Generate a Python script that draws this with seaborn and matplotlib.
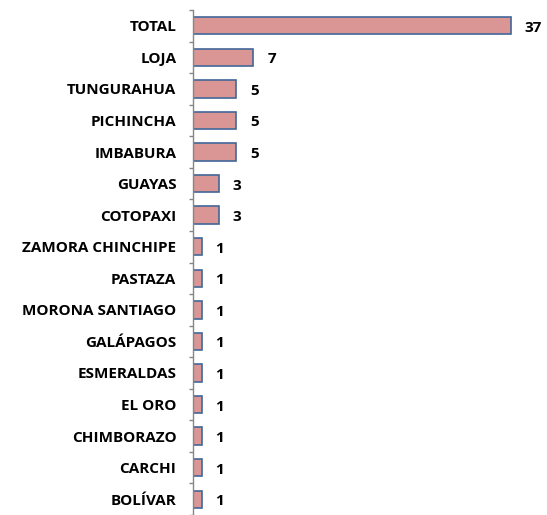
import matplotlib
matplotlib.use("Agg")
import matplotlib.pyplot as plt
import seaborn as sns
import pandas as pd
import numpy as np

provinces = ["TOTAL", "LOJA", "TUNGURAHUA", "PICHINCHA", "IMBABURA", "GUAYAS",
             "COTOPAXI", "ZAMORA CHINCHIPE", "PASTAZA", "MORONA SANTIAGO",
             "GALÁPAGOS", "ESMERALDAS", "EL ORO", "CHIMBORAZO", "CARCHI", "BOLÍVAR"]
counts = [37, 7, 5, 5, 5, 3, 3, 1, 1, 1, 1, 1, 1, 1, 1, 1]

df = pd.DataFrame({"provincia": provinces, "casos": counts})

sns.set_style("white")
plt.rcParams["font.family"] = ["Open Sans", "DejaVu Sans"]

fig = plt.figure(figsize=(5.47, 5.15), dpi=100)
ax = fig.add_axes([193 / 547, 0, 354 / 547, 505 / 515])

sns.barplot(data=df, x="casos", y="provincia", orient="h", color="#D99694",
            edgecolor="#41679A", linewidth=1.2, width=0.55, saturation=1, ax=ax)

# value labels to the right of each bar
for i, v in enumerate(counts):
    ax.annotate(str(v), (v, i), xytext=(14, -2), textcoords="offset pixels",
                ha="left", va="center", fontsize=11, fontweight="bold", color="black")

ax.set_xlim(0, 41.2)
ax.set_ylim(len(provinces) - 0.5, -0.5)
ax.set_xlabel("")
ax.set_ylabel("")
ax.set_xticks([])
for s in ["top", "right", "bottom"]:
    ax.spines[s].set_visible(False)
ax.spines["left"].set_color("#868686")
ax.spines["left"].set_linewidth(1.0)

ax.set_yticks(np.arange(-0.5, len(provinces), 1.0), minor=True)
ax.tick_params(axis="y", which="major", length=0, pad=12, labelsize=11, labelcolor="black")
ax.tick_params(axis="y", which="minor", length=3, color="#868686", width=1.0, left=True)
for lbl in ax.get_yticklabels():
    lbl.set_fontweight("bold")

fig.savefig("out.png", dpi=100)
